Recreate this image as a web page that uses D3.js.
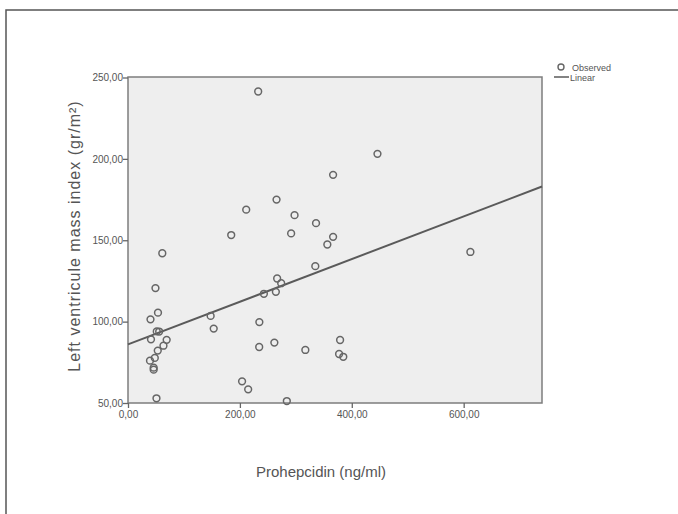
<!DOCTYPE html>
<html lang="en">
<head>
    <meta charset="UTF-8">
    <title>Prohepcidin vs LV mass index</title>
    <script src="https://d3js.org/d3.v7.min.js"></script>
    <style>
        body, html {
            margin: 0;
            padding: 0;
            overflow: hidden;
            width: 100%;
            height: 100%;
            background: #fff;
        }
        svg {
            display: block;
        }
        .tick-label {
            font-family: "Liberation Sans", Arial, sans-serif;
            font-size: 10px;
            fill: #555;
        }
        .axis-title {
            font-family: "Liberation Sans", Arial, sans-serif;
            font-size: 15px;
            fill: #555;
        }
        .legend-text {
            font-family: "Liberation Sans", Arial, sans-serif;
            font-size: 9px;
            fill: #555;
        }
    </style>
</head>
<body>
    <svg width="678" height="514"></svg>

    <script>
        const prohepcidin = [
            232.7, 445.9, 366.6, 265.5, 211.3, 297.7, 184.5, 291.6, 336.1, 366.6, 356.3,
            334.8, 612.0, 61.3, 49.1, 53.6, 40.2, 51.4, 55.7, 41.1, 69.1, 63.4,
            53.2, 47.9, 39.3, 45.9, 45.9, 50.9, 147.7, 153.2, 234.8, 234.5, 261.6,
            242.9, 264.3, 266.6, 273.8, 317.0, 203.9, 214.8, 379.1, 377.3, 384.8, 283.9
        ];
        const lvMassIndex = [
            241.4, 203.1, 190.2, 175.0, 168.8, 165.4, 153.2, 154.2, 160.5, 152.1, 147.4,
            134.1, 142.8, 142.0, 120.6, 105.5, 101.4, 94.0, 93.9, 89.1, 88.8, 85.2,
            82.2, 77.7, 76.0, 71.7, 70.5, 52.9, 103.5, 95.7, 99.7, 84.4, 87.1,
            117.1, 118.3, 126.5, 123.6, 82.6, 63.3, 58.4, 88.7, 80.1, 78.4, 51.2
        ];

        // Linear fit, endpoints at the x domain limits
        const fitX = [0, 740];
        const fitY = [86, 183];

        const xTicks = [0, 200, 400, 600];
        const yTicks = [50, 100, 150, 200, 250];
        const fmt = v => d3.format(".2f")(v).replace(".", ",");

        const svg = d3.select("svg");

        // outer frame (top and left edges only visible)
        svg.append("path")
            .attr("d", "M6,514V10H678")
            .attr("fill", "none")
            .attr("stroke", "#555")
            .attr("stroke-width", 1.5);

        const plot = { left: 128, right: 542, top: 77, bottom: 403 };

        const x = d3.scaleLinear().domain([0, 740]).range([plot.left, plot.right]);
        const y = d3.scaleLinear().domain([50, 250]).range([plot.bottom, plot.top + 0.5]);

        svg.append("rect")
            .attr("x", plot.left)
            .attr("y", plot.top)
            .attr("width", plot.right - plot.left)
            .attr("height", plot.bottom - plot.top)
            .attr("fill", "#eeeeee")
            .attr("stroke", "#7d7d7d")
            .attr("stroke-width", 1.5);

        // axes
        const xAxis = svg.append("g")
            .attr("transform", `translate(0,${plot.bottom})`)
            .call(d3.axisBottom(x).tickValues(xTicks).tickSize(5).tickFormat(fmt));
        const yAxis = svg.append("g")
            .attr("transform", `translate(${plot.left},0)`)
            .call(d3.axisLeft(y).tickValues(yTicks).tickSize(5).tickFormat(fmt));

        [xAxis, yAxis].forEach(g => {
            g.select(".domain").remove();
            g.selectAll(".tick line").attr("stroke", "#666").attr("stroke-width", 1.3);
            g.selectAll(".tick text")
                .attr("class", "tick-label")
                .attr("fill", null)
                .attr("font-family", null)
                .attr("font-size", null);
        });
        xAxis.selectAll(".tick text").attr("dy", "0.9em").attr("y", 6);
        yAxis.selectAll(".tick text").attr("x", -5);

        // fit line
        svg.append("line")
            .attr("x1", x(fitX[0])).attr("y1", y(fitY[0]))
            .attr("x2", x(fitX[1])).attr("y2", y(fitY[1]))
            .attr("stroke", "#5a5a5a")
            .attr("stroke-width", 2);

        // observed points
        svg.append("g")
            .selectAll("circle")
            .data(d3.zip(prohepcidin, lvMassIndex))
            .join("circle")
            .attr("cx", d => x(d[0]))
            .attr("cy", d => y(d[1]))
            .attr("r", 3.4)
            .attr("fill", "none")
            .attr("stroke", "#666")
            .attr("stroke-width", 1.5);

        // axis titles
        svg.append("text")
            .attr("class", "axis-title")
            .attr("x", (plot.left + plot.right) / 2 - 14)
            .attr("y", 477)
            .attr("text-anchor", "middle")
            .text("Prohepcidin (ng/ml)");

        svg.append("text")
            .attr("class", "axis-title")
            .attr("transform", `translate(80,${(plot.top + plot.bottom) / 2 - 4}) rotate(-90)`)
            .attr("text-anchor", "middle")
            .attr("font-size", "16px")
            .style("font-size", "16px")
            .attr("letter-spacing", "1px")
            .text("Left ventricule mass index (gr/m²)");

        // legend
        const legend = svg.append("g").attr("transform", "translate(554,67)");
        legend.append("circle")
            .attr("cx", 7).attr("cy", 0).attr("r", 3)
            .attr("fill", "none").attr("stroke", "#666").attr("stroke-width", 1.4);
        legend.append("text").attr("class", "legend-text")
            .attr("x", 18).attr("y", 3.5).text("Observed");
        legend.append("line")
            .attr("x1", 0).attr("x2", 15).attr("y1", 10).attr("y2", 10)
            .attr("stroke", "#5a5a5a").attr("stroke-width", 1.5);
        legend.append("text").attr("class", "legend-text")
            .attr("x", 16).attr("y", 13.5).text("Linear");
    </script>
</body>
</html>
